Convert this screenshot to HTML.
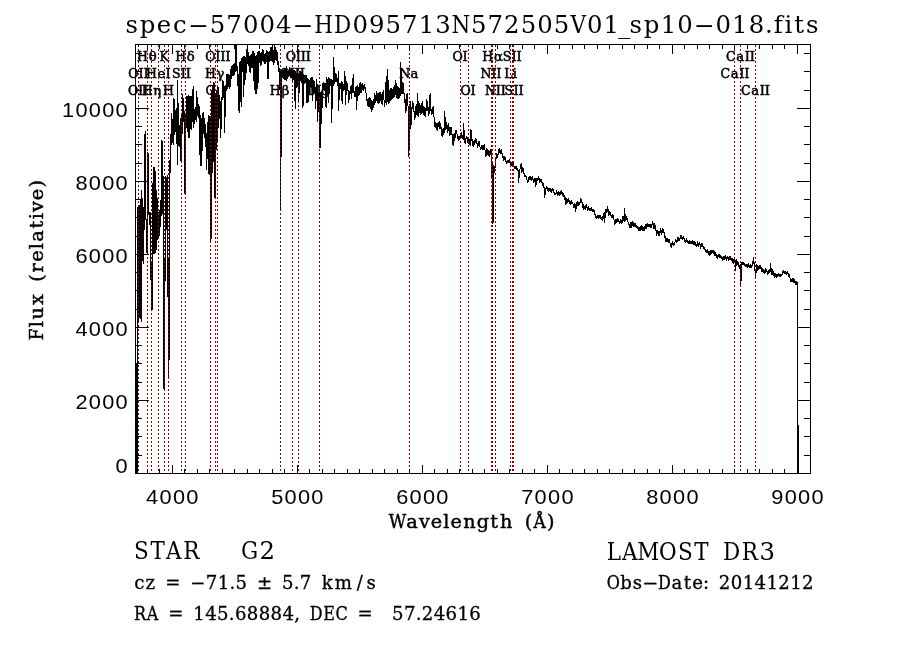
<!DOCTYPE html>
<html lang="en"><head><meta charset="utf-8"><title>spec-57004-HD095713N572505V01_sp10-018.fits</title>
<style>html,body{margin:0;padding:0;background:#fff;}svg{display:block}.t{font-family:"DejaVu Serif","Liberation Serif",serif;fill:#000}.s{font-family:"Liberation Sans","DejaVu Sans",sans-serif;fill:#000}.l{font-family:"DejaVu Serif","Liberation Serif",serif;fill:#000;stroke:#000;stroke-width:0.5px}</style></head><body>
<svg width="900" height="649" viewBox="0 0 900 649">
<rect width="900" height="649" fill="#fff"/>
<polyline points="136.5,363.0 136.5,473.0 137.5,473.0 137.5,207.0 138.5,207.0 138.5,322.0 139.5,315.0 139.5,210.0 140.5,200.0 140.5,315.0 141.5,322.0 141.5,190.0 142.5,205.0 142.5,258.0 143.5,264.0 143.5,207.0 144.5,230.0 144.5,138.0 145.5,131.0 145.5,219.0 146.5,219.0 146.5,252.0 147.5,254.0 147.5,152.0 148.5,155.0 148.5,215.0 149.5,212.0 149.5,225.0 150.5,212.0 150.5,280.0 151.5,262.0 151.5,309.0 152.5,309.0 152.5,200.0 153.5,167.0 153.5,253.0 154.5,253.0 154.5,167.0 155.5,175.0 155.5,253.0 156.5,247.0 156.5,190.0 157.5,205.0 157.5,240.0 158.5,234.0 158.5,215.0 159.5,210.0 159.5,236.0 160.5,218.0 160.5,200.0 161.5,216.0 161.5,140.0 162.5,143.0 162.5,214.0 163.5,176.0 163.5,388.0 164.5,390.0 164.5,258.0 165.5,281.0 165.5,176.0 166.5,178.0 166.5,230.0 167.5,175.0 167.5,297.0 168.5,258.0 168.5,378.5 169.5,343.0 169.5,160.0 170.5,173.0 170.5,134.0 171.5,145.0 171.5,113.0 172.5,124.6 172.5,140.5 173.5,145.3 173.5,98.0 174.5,100.0 174.5,135.0 175.5,128.2 175.5,111.0 176.5,108.4 176.5,123.1 177.5,165.0 177.5,80.0 178.5,125.2 178.5,144.9 179.5,146.3 179.5,131.9 180.5,118.3 180.5,160.0 181.5,160.0 181.5,114.1 182.5,134.2 182.5,94.0 183.5,101.0 183.5,122.1 184.5,110.8 184.5,193.0 185.5,193.0 185.5,114.6 186.5,127.7 186.5,96.0 187.5,96.0 187.5,125.0 188.5,138.0 188.5,96.0 189.5,97.0 189.5,138.0 190.5,120.0 190.5,96.0 191.5,96.0 191.5,130.3 192.5,115.0 192.5,92.0 193.5,86.0 193.5,128.0 194.5,120.1 194.5,110.4 195.5,107.0 195.5,118.9 196.5,120.7 196.5,91.0 197.5,102.8 197.5,113.7 198.5,117.8 198.5,104.3 199.5,108.3 199.5,144.2 200.5,166.0 200.5,115.0 201.5,121.0 201.5,166.0 202.5,137.4 202.5,115.2 203.5,111.6 203.5,128.7 204.5,138.2 204.5,117.7 205.5,131.0 205.5,147.4 206.5,132.7 206.5,170.0 207.5,149.3 207.5,128.1 208.5,115.5 208.5,172.0 209.5,175.0 209.5,116.1 210.5,116.1 210.5,241.0 211.5,236.0 211.5,95.0 212.5,85.0 212.5,173.3 213.5,152.0 213.5,83.0 214.5,84.0 214.5,197.0 215.5,197.0 215.5,96.0 216.5,90.0 216.5,150.0 217.5,135.0 217.5,87.0 218.5,88.0 218.5,128.0 219.5,111.2 219.5,95.4 220.5,107.0 220.5,138.0 221.5,119.9 221.5,97.6 222.5,98.8 222.5,80.6 223.5,81.4 223.5,97.9 224.5,85.7 224.5,133.2 225.5,103.0 225.5,84.7 226.5,91.3 226.5,74.9 227.5,74.4 227.5,88.6 228.5,85.5 228.5,74.4 229.5,75.2 229.5,87.9 230.5,86.3 230.5,72.3 231.5,66.4 231.5,79.3 232.5,73.2 232.5,65.8 233.5,65.0 233.5,75.8 234.5,73.9 234.5,63.2 235.5,72.2 235.5,45.0 236.5,45.0 236.5,70.7 237.5,65.8 237.5,86.2 238.5,74.2 238.5,109.0 239.5,112.6 239.5,62.7 240.5,61.7 240.5,98.0 241.5,106.6 241.5,58.7 242.5,58.0 242.5,71.6 243.5,56.5 243.5,97.4 244.5,72.5 244.5,56.7 245.5,58.3 245.5,79.5 246.5,67.0 246.5,52.9 247.5,45.0 247.5,61.9 248.5,65.9 248.5,52.3 249.5,58.9 249.5,71.4 250.5,72.2 250.5,56.7 251.5,53.7 251.5,67.3 252.5,67.4 252.5,51.2 253.5,51.4 253.5,72.6 254.5,90.0 254.5,53.4 255.5,58.8 255.5,93.4 256.5,93.0 256.5,58.2 257.5,52.1 257.5,88.7 258.5,77.9 258.5,51.2 259.5,51.7 259.5,60.5 260.5,65.5 260.5,53.1 261.5,52.8 261.5,64.8 262.5,57.8 262.5,50.0 263.5,50.3 263.5,60.2 264.5,63.5 264.5,54.8 265.5,52.8 265.5,63.7 266.5,60.0 266.5,50.0 267.5,52.1 267.5,78.6 268.5,78.0 268.5,53.1 269.5,50.9 269.5,61.4 270.5,60.1 270.5,47.5 271.5,47.3 271.5,59.2 272.5,62.4 272.5,48.9 273.5,51.7 273.5,63.8 274.5,62.1 274.5,45.0 275.5,48.2 275.5,59.4 276.5,60.6 276.5,50.0 277.5,54.0 277.5,64.8 278.5,61.3 278.5,71.7 279.5,68.1 279.5,90.0 280.5,71.5 280.5,210.0 281.5,110.0 281.5,72.2 282.5,69.6 282.5,77.9 283.5,78.3 283.5,71.6 284.5,68.2 284.5,79.6 285.5,79.3 285.5,72.2 286.5,65.8 286.5,80.6 287.5,77.6 287.5,71.9 288.5,71.3 288.5,77.3 289.5,74.6 289.5,68.2 290.5,69.7 290.5,75.3 291.5,77.6 291.5,68.3 292.5,70.3 292.5,80.6 293.5,78.6 293.5,70.7 294.5,71.0 294.5,93.6 295.5,108.5 295.5,71.4 296.5,75.5 296.5,87.4 297.5,86.6 297.5,76.6 298.5,75.5 298.5,101.8 299.5,84.5 299.5,71.8 300.5,71.6 300.5,80.1 301.5,81.7 301.5,72.5 302.5,73.9 302.5,108.0 303.5,103.1 303.5,74.8 304.5,75.6 304.5,83.0 305.5,82.1 305.5,75.0 306.5,75.0 306.5,102.7 307.5,102.0 307.5,78.9 308.5,79.7 308.5,101.6 309.5,88.3 309.5,81.7 310.5,78.5 310.5,86.1 311.5,87.2 311.5,77.5 312.5,77.5 312.5,100.7 313.5,90.2 313.5,80.2 314.5,82.8 314.5,92.6 315.5,86.7 315.5,108.5 316.5,94.7 316.5,79.4 317.5,87.7 317.5,121.5 318.5,103.0 318.5,91.6 319.5,94.3 319.5,147.0 320.5,147.0 320.5,92.8 321.5,91.8 321.5,124.0 322.5,93.4 322.5,85.0 323.5,82.0 323.5,88.4 324.5,91.0 324.5,83.3 325.5,83.1 325.5,106.8 326.5,107.0 326.5,76.9 327.5,81.2 327.5,87.8 328.5,77.1 328.5,103.1 329.5,85.5 329.5,78.3 330.5,79.5 330.5,86.1 331.5,79.5 331.5,122.7 332.5,96.1 332.5,80.5 333.5,85.7 333.5,56.7 334.5,76.2 334.5,83.5 335.5,80.1 335.5,73.2 336.5,75.8 336.5,81.7 337.5,78.4 337.5,85.8 338.5,71.5 338.5,110.7 339.5,89.0 339.5,83.6 340.5,83.1 340.5,88.6 341.5,81.5 341.5,98.3 342.5,103.8 342.5,82.0 343.5,85.9 343.5,91.4 344.5,89.2 344.5,71.4 345.5,80.9 345.5,105.2 346.5,86.0 346.5,80.9 347.5,84.7 347.5,90.9 348.5,90.8 348.5,102.7 349.5,97.2 349.5,90.7 350.5,93.5 350.5,87.5 351.5,85.2 351.5,98.9 352.5,87.4 352.5,82.3 353.5,74.1 353.5,93.1 354.5,91.0 354.5,96.5 355.5,96.1 355.5,88.0 356.5,87.0 356.5,109.5 357.5,93.0 357.5,86.0 358.5,87.7 358.5,96.2 359.5,92.9 359.5,84.8 360.5,82.2 360.5,92.5 361.5,92.7 361.5,85.5 362.5,83.3 362.5,88.6 363.5,91.3 363.5,85.2 364.5,84.4 364.5,88.3 365.5,87.4 365.5,92.4 366.5,93.7 366.5,100.7 367.5,99.8 367.5,104.4 368.5,106.4 368.5,98.5 369.5,97.8 369.5,106.0 370.5,107.8 370.5,99.5 371.5,101.3 371.5,112.2 372.5,107.4 372.5,101.8 373.5,100.0 373.5,107.5 374.5,101.7 374.5,94.4 375.5,95.9 375.5,103.2 376.5,99.4 376.5,92.4 377.5,93.9 377.5,100.5 378.5,104.4 378.5,94.3 379.5,92.6 379.5,102.6 380.5,99.9 380.5,91.9 381.5,96.3 381.5,103.0 382.5,104.0 382.5,92.5 383.5,91.1 383.5,99.7 384.5,100.5 384.5,106.7 385.5,99.0 385.5,88.3 386.5,76.3 386.5,104.7 387.5,98.5 387.5,68.9 388.5,90.2 388.5,104.4 389.5,102.1 389.5,92.7 390.5,87.9 390.5,101.3 391.5,99.2 391.5,88.2 392.5,90.8 392.5,98.4 393.5,97.9 393.5,89.9 394.5,84.6 394.5,97.4 395.5,93.2 395.5,80.3 396.5,86.5 396.5,96.1 397.5,98.9 397.5,85.8 398.5,88.9 398.5,98.1 399.5,97.2 399.5,88.2 400.5,95.6 400.5,62.2 401.5,81.8 401.5,93.6 402.5,93.0 402.5,82.3 403.5,84.4 403.5,93.1 404.5,93.1 404.5,103.3 405.5,98.8 405.5,113.3 406.5,109.4 406.5,96.1 407.5,93.0 407.5,102.5 408.5,109.0 408.5,156.7 409.5,142.8 409.5,106.6 410.5,101.3 410.5,128.9 411.5,120.5 411.5,108.0 412.5,108.5 412.5,102.2 413.5,103.7 413.5,110.2 414.5,112.6 414.5,120.0 415.5,115.5 415.5,108.1 416.5,103.8 416.5,113.9 417.5,115.9 417.5,93.3 418.5,107.8 418.5,116.6 419.5,109.4 419.5,102.9 420.5,107.8 420.5,114.8 421.5,112.9 421.5,103.8 422.5,102.3 422.5,111.7 423.5,114.8 423.5,106.4 424.5,107.5 424.5,115.1 425.5,116.1 425.5,107.7 426.5,110.8 426.5,100.0 427.5,101.5 427.5,109.8 428.5,108.2 428.5,114.6 429.5,112.8 429.5,97.8 430.5,93.3 430.5,110.4 431.5,109.5 431.5,115.1 432.5,112.9 432.5,107.3 433.5,107.0 433.5,115.0 434.5,118.9 434.5,125.5 435.5,127.6 435.5,122.0 436.5,124.7 436.5,128.1 437.5,130.9 437.5,123.9 438.5,122.9 438.5,126.3 439.5,128.1 439.5,122.2 440.5,123.3 440.5,127.9 441.5,127.2 441.5,134.5 442.5,136.6 442.5,130.3 443.5,127.9 443.5,134.8 444.5,130.7 444.5,111.1 445.5,122.2 445.5,129.2 446.5,128.6 446.5,122.2 447.5,127.2 447.5,132.9 448.5,129.4 448.5,123.3 449.5,130.2 449.5,135.7 450.5,133.5 450.5,127.6 451.5,127.7 451.5,134.1 452.5,134.7 452.5,143.3 453.5,145.6 453.5,135.2 454.5,133.7 454.5,140.7 455.5,135.9 455.5,130.5 456.5,130.6 456.5,133.5 457.5,134.3 457.5,138.5 458.5,137.0 458.5,140.7 459.5,139.6 459.5,136.5 460.5,138.5 460.5,134.0 461.5,132.0 461.5,137.6 462.5,138.7 462.5,134.9 463.5,139.7 463.5,123.3 464.5,136.4 464.5,142.2 465.5,143.2 465.5,138.8 466.5,138.7 466.5,135.6 467.5,139.1 467.5,143.0 468.5,143.1 468.5,138.8 469.5,139.8 469.5,144.4 470.5,145.3 470.5,128.9 471.5,131.9 471.5,141.3 472.5,139.4 472.5,145.2 473.5,146.6 473.5,142.1 474.5,140.6 474.5,143.7 475.5,141.9 475.5,138.9 476.5,139.7 476.5,143.0 477.5,143.4 477.5,147.6 478.5,145.0 478.5,141.3 479.5,141.1 479.5,146.2 480.5,147.5 480.5,150.2 481.5,147.9 481.5,145.5 482.5,145.1 482.5,149.2 483.5,149.5 483.5,145.3 484.5,144.9 484.5,147.8 485.5,152.6 485.5,156.1 486.5,154.6 486.5,147.9 487.5,150.0 487.5,153.9 488.5,155.3 488.5,150.4 489.5,151.7 489.5,155.5 490.5,153.7 490.5,149.3 491.5,150.0 491.5,177.8 492.5,162.1 492.5,223.3 493.5,222.7 493.5,165.4 494.5,166.6 494.5,172.8 495.5,163.9 495.5,160.5 496.5,157.5 496.5,153.4 497.5,154.5 497.5,157.9 498.5,151.9 498.5,149.1 499.5,148.5 499.5,152.3 500.5,154.3 500.5,150.1 501.5,149.5 501.5,153.1 502.5,153.9 502.5,157.0 503.5,156.3 503.5,159.8 504.5,158.8 504.5,155.7 505.5,159.2 505.5,161.8 506.5,161.3 506.5,163.3 507.5,162.4 507.5,160.4 508.5,160.6 508.5,162.6 509.5,162.3 509.5,160.2 510.5,161.9 510.5,164.3 511.5,163.2 511.5,165.6 512.5,164.2 512.5,162.2 513.5,163.8 513.5,166.3 514.5,166.5 514.5,168.5 515.5,168.3 515.5,166.3 516.5,166.7 516.5,169.3 517.5,168.6 517.5,170.6 518.5,170.2 518.5,183.3 519.5,172.0 519.5,169.6 520.5,168.5 520.5,165.9 521.5,163.3 521.5,173.3 522.5,170.6 522.5,166.7 523.5,170.0 523.5,173.0 524.5,173.6 524.5,176.6 525.5,176.9 525.5,174.9 526.5,177.6 526.5,179.6 527.5,180.7 527.5,183.3 528.5,180.7 528.5,178.0 529.5,179.0 529.5,176.8 530.5,176.7 530.5,179.3 531.5,180.3 531.5,177.7 532.5,176.9 532.5,179.6 533.5,179.7 533.5,182.2 534.5,181.6 534.5,178.5 535.5,179.0 535.5,186.7 536.5,182.9 536.5,178.5 537.5,178.1 537.5,181.1 538.5,178.4 538.5,175.6 539.5,179.8 539.5,182.3 540.5,181.9 540.5,179.4 541.5,179.8 541.5,181.9 542.5,182.9 542.5,184.9 543.5,184.0 543.5,187.7 544.5,187.3 544.5,197.8 545.5,193.0 545.5,189.0 546.5,188.9 546.5,186.9 547.5,187.7 547.5,190.0 548.5,191.0 548.5,188.5 549.5,188.3 549.5,190.3 550.5,191.2 550.5,188.9 551.5,190.0 551.5,192.0 552.5,190.6 552.5,188.6 553.5,190.6 553.5,192.7 554.5,192.1 554.5,194.1 555.5,193.3 555.5,195.3 556.5,193.2 556.5,191.0 557.5,192.4 557.5,195.0 558.5,193.9 558.5,191.9 559.5,192.2 559.5,194.9 560.5,194.1 560.5,191.2 561.5,190.8 561.5,193.2 562.5,192.3 562.5,194.8 563.5,196.4 563.5,193.2 564.5,197.8 564.5,200.4 565.5,196.6 565.5,204.4 566.5,202.7 566.5,198.7 567.5,200.5 567.5,202.5 568.5,200.5 568.5,198.5 569.5,201.0 569.5,203.0 570.5,204.0 570.5,201.4 571.5,201.0 571.5,203.0 572.5,203.8 572.5,201.8 573.5,205.8 573.5,207.8 574.5,207.8 574.5,204.0 575.5,204.4 575.5,212.2 576.5,205.5 576.5,202.2 577.5,201.7 577.5,205.7 578.5,205.1 578.5,202.6 579.5,202.9 579.5,205.2 580.5,201.7 580.5,197.9 581.5,200.2 581.5,202.8 582.5,202.4 582.5,206.9 583.5,208.7 583.5,204.4 584.5,206.8 584.5,208.8 585.5,209.2 585.5,205.6 586.5,205.0 586.5,207.3 587.5,208.1 587.5,210.7 588.5,209.7 588.5,206.8 589.5,208.6 589.5,210.6 590.5,210.4 590.5,208.4 591.5,208.0 591.5,210.3 592.5,209.7 592.5,211.7 593.5,210.9 593.5,208.9 594.5,211.9 594.5,214.8 595.5,214.6 595.5,217.3 596.5,216.3 596.5,218.7 597.5,217.5 597.5,215.5 598.5,215.4 598.5,218.2 599.5,217.9 599.5,215.5 600.5,216.0 600.5,218.3 601.5,217.4 601.5,219.6 602.5,220.2 602.5,216.7 603.5,218.4 603.5,213.8 604.5,212.8 604.5,223.3 605.5,213.5 605.5,210.0 606.5,209.5 606.5,212.3 607.5,211.6 607.5,205.6 608.5,211.6 608.5,215.0 609.5,214.7 609.5,211.5 610.5,212.5 610.5,215.7 611.5,215.4 611.5,217.8 612.5,217.3 612.5,214.6 613.5,215.6 613.5,218.0 614.5,221.4 614.5,224.4 615.5,222.7 615.5,219.6 616.5,219.4 616.5,222.3 617.5,221.6 617.5,218.5 618.5,219.4 618.5,221.4 619.5,222.0 619.5,224.2 620.5,222.3 620.5,219.9 621.5,220.2 621.5,224.2 622.5,221.0 622.5,216.8 623.5,216.6 623.5,219.8 624.5,222.2 624.5,207.8 625.5,219.0 625.5,221.1 626.5,219.2 626.5,217.2 627.5,218.9 627.5,221.8 628.5,222.3 628.5,224.3 629.5,224.3 629.5,227.4 630.5,227.0 630.5,222.3 631.5,223.1 631.5,226.9 632.5,225.1 632.5,221.1 633.5,223.7 633.5,226.8 634.5,226.0 634.5,223.6 635.5,224.0 635.5,226.5 636.5,227.3 636.5,225.3 637.5,226.2 637.5,228.2 638.5,227.8 638.5,230.1 639.5,230.7 639.5,227.4 640.5,226.3 640.5,230.0 641.5,228.8 641.5,225.1 642.5,227.8 642.5,230.6 643.5,230.3 643.5,227.3 644.5,226.6 644.5,229.8 645.5,228.3 645.5,224.5 646.5,224.4 646.5,227.9 647.5,226.5 647.5,223.6 648.5,224.6 648.5,226.9 649.5,226.6 649.5,224.3 650.5,224.4 650.5,227.1 651.5,227.2 651.5,225.1 652.5,224.1 652.5,221.1 653.5,225.8 653.5,228.5 654.5,228.5 654.5,224.4 655.5,226.2 655.5,229.7 656.5,231.4 656.5,235.6 657.5,233.2 657.5,230.4 658.5,231.3 658.5,235.4 659.5,235.3 659.5,231.6 660.5,232.5 660.5,228.8 661.5,230.6 661.5,233.9 662.5,232.5 662.5,228.6 663.5,230.0 663.5,232.6 664.5,232.8 664.5,237.4 665.5,236.8 665.5,241.1 666.5,241.1 666.5,238.5 667.5,238.8 667.5,241.6 668.5,242.0 668.5,239.3 669.5,240.1 669.5,242.1 670.5,243.3 670.5,246.1 671.5,246.9 671.5,243.9 672.5,244.4 672.5,242.3 673.5,243.9 673.5,246.1 674.5,244.2 674.5,242.2 675.5,241.6 675.5,239.6 676.5,240.5 676.5,243.2 677.5,240.0 677.5,238.0 678.5,237.4 678.5,240.4 679.5,240.9 679.5,238.6 680.5,237.9 680.5,235.6 681.5,235.9 681.5,238.4 682.5,237.4 682.5,239.6 683.5,238.4 683.5,236.4 684.5,239.6 684.5,241.6 685.5,240.7 685.5,242.7 686.5,241.4 686.5,239.1 687.5,240.3 687.5,242.3 688.5,243.1 688.5,241.1 689.5,240.5 689.5,242.8 690.5,241.7 690.5,244.0 691.5,243.9 691.5,241.6 692.5,241.0 692.5,243.0 693.5,242.1 693.5,244.3 694.5,244.1 694.5,241.9 695.5,243.2 695.5,245.2 696.5,244.3 696.5,246.7 697.5,244.3 697.5,242.3 698.5,243.8 698.5,245.9 699.5,244.6 699.5,242.0 700.5,246.4 700.5,248.9 701.5,245.7 701.5,243.3 702.5,243.9 702.5,246.0 703.5,246.5 703.5,248.5 704.5,247.3 704.5,249.8 705.5,249.4 705.5,251.6 706.5,252.4 706.5,250.4 707.5,251.7 707.5,248.9 708.5,252.7 708.5,254.7 709.5,255.0 709.5,252.3 710.5,253.8 710.5,250.4 711.5,250.3 711.5,253.0 712.5,252.7 712.5,250.5 713.5,250.5 713.5,253.3 714.5,252.0 714.5,254.9 715.5,255.8 715.5,252.5 716.5,255.8 716.5,257.8 717.5,258.1 717.5,255.2 718.5,254.6 718.5,256.6 719.5,257.1 719.5,254.6 720.5,255.1 720.5,257.1 721.5,258.0 721.5,256.0 722.5,258.0 722.5,260.0 723.5,259.0 723.5,257.0 724.5,256.9 724.5,259.1 725.5,258.1 725.5,256.1 726.5,257.5 726.5,260.0 727.5,258.3 727.5,255.8 728.5,257.8 728.5,260.7 729.5,258.7 729.5,256.3 730.5,257.0 730.5,259.7 731.5,260.7 731.5,258.6 732.5,259.0 732.5,261.6 733.5,263.2 733.5,259.3 734.5,258.7 734.5,261.4 735.5,260.9 735.5,271.1 736.5,261.2 736.5,259.1 737.5,262.1 737.5,264.4 738.5,262.6 738.5,266.6 739.5,265.9 739.5,268.9 740.5,263.8 740.5,286.2 741.5,275.9 741.5,262.6 742.5,262.8 742.5,264.8 743.5,264.7 743.5,262.7 744.5,263.1 744.5,265.2 745.5,264.7 745.5,266.7 746.5,266.6 746.5,264.6 747.5,265.0 747.5,267.1 748.5,266.1 748.5,263.9 749.5,265.6 749.5,267.6 750.5,266.9 750.5,264.5 751.5,265.8 751.5,267.8 752.5,263.7 752.5,261.1 753.5,264.3 753.5,257.3 754.5,266.7 754.5,271.1 755.5,269.1 755.5,278.9 756.5,267.6 756.5,264.5 757.5,265.6 757.5,270.5 758.5,268.4 758.5,266.3 759.5,265.7 759.5,268.5 760.5,268.2 760.5,265.3 761.5,268.6 761.5,271.0 762.5,271.0 762.5,269.0 763.5,269.8 763.5,271.8 764.5,270.7 764.5,273.1 765.5,271.7 765.5,268.7 766.5,269.8 766.5,271.8 767.5,271.8 767.5,274.4 768.5,273.9 768.5,270.8 769.5,272.1 769.5,268.8 770.5,271.8 770.5,263.3 771.5,272.1 771.5,274.3 772.5,274.6 772.5,269.2 773.5,272.2 773.5,275.7 774.5,276.9 774.5,273.6 775.5,273.9 775.5,275.9 776.5,277.0 776.5,274.8 777.5,274.6 777.5,276.6 778.5,275.7 778.5,273.7 779.5,274.3 779.5,276.5 780.5,276.6 780.5,274.6 781.5,274.3 781.5,276.3 782.5,273.1 782.5,271.1 783.5,270.7 783.5,272.7 784.5,273.7 784.5,271.7 785.5,271.6 785.5,273.9 786.5,274.2 786.5,272.2 787.5,271.6 787.5,273.6 788.5,274.0 788.5,276.0 789.5,275.1 789.5,277.1 790.5,279.0 790.5,281.6 791.5,281.7 791.5,279.7 792.5,278.5 792.5,281.0 793.5,281.9 793.5,278.7 794.5,280.1 794.5,282.3 795.5,282.0 795.5,284.0 796.5,284.4 796.5,282.0 797.5,283.0 797.5,473.0 798.5,473.0 798.5,425.0" fill="none" stroke="#000" stroke-width="1" stroke-linejoin="miter" shape-rendering="crispEdges"/>
<g stroke="#900000" stroke-width="1" stroke-dasharray="2 2" shape-rendering="crispEdges">
<line x1="138.5" y1="45" x2="138.5" y2="473"/>
<line x1="147.5" y1="45" x2="147.5" y2="473"/>
<line x1="151.5" y1="45" x2="151.5" y2="473"/>
<line x1="158.5" y1="45" x2="158.5" y2="473"/>
<line x1="164.5" y1="45" x2="164.5" y2="473"/>
<line x1="168.5" y1="45" x2="168.5" y2="473"/>
<line x1="181.5" y1="45" x2="181.5" y2="473"/>
<line x1="185.5" y1="45" x2="185.5" y2="473"/>
<line x1="210.5" y1="45" x2="210.5" y2="473"/>
<line x1="215.5" y1="45" x2="215.5" y2="473"/>
<line x1="217.5" y1="45" x2="217.5" y2="473"/>
<line x1="280.5" y1="45" x2="280.5" y2="473"/>
<line x1="292.5" y1="45" x2="292.5" y2="473"/>
<line x1="298.5" y1="45" x2="298.5" y2="473"/>
<line x1="319.5" y1="45" x2="319.5" y2="473"/>
<line x1="409.5" y1="45" x2="409.5" y2="473"/>
<line x1="460.5" y1="45" x2="460.5" y2="473"/>
<line x1="468.5" y1="45" x2="468.5" y2="473"/>
<line x1="491.5" y1="45" x2="491.5" y2="473"/>
<line x1="492.5" y1="45" x2="492.5" y2="473"/>
<line x1="495.5" y1="45" x2="495.5" y2="473"/>
<line x1="510.5" y1="45" x2="510.5" y2="473"/>
<line x1="512.5" y1="45" x2="512.5" y2="473"/>
<line x1="513.5" y1="45" x2="513.5" y2="473"/>
<line x1="734.5" y1="45" x2="734.5" y2="473"/>
<line x1="740.5" y1="45" x2="740.5" y2="473"/>
<line x1="755.5" y1="45" x2="755.5" y2="473"/>
</g>
<text class="l" text-anchor="middle" font-size="13.2" x="140.14" y="0" transform="translate(0 95.3) scale(0.95 1)" >O</text><text class="l" text-anchor="middle" font-size="13.2" x="140.67 145.70" y="0" transform="translate(0 95.3) scale(1.0 1)" >II</text>
<text class="l" text-anchor="middle" font-size="13.2" x="140.51" y="0" transform="translate(0 78.4) scale(0.95 1)" >O</text><text class="l" text-anchor="middle" font-size="13.2" x="141.02 146.05" y="0" transform="translate(0 78.4) scale(1.0 1)" >II</text>
<text class="l" text-anchor="middle" font-size="13.2" x="149.84" y="0" transform="translate(0 61.3) scale(0.95 1)" >H</text><text class="l" text-anchor="middle" font-size="13.2" x="152.63" y="0" transform="translate(0 61.3) scale(1.0 1)" >θ</text>
<text class="l" text-anchor="middle" font-size="13.2" x="155.01" y="0" transform="translate(0 95.3) scale(0.95 1)" >H</text><text class="l" text-anchor="middle" font-size="13.2" x="157.32" y="0" transform="translate(0 95.3) scale(1.0 1)" >η</text>
<text class="l" text-anchor="middle" font-size="13.2" x="159.52" y="0" transform="translate(0 78.4) scale(0.95 1)" >H</text><text class="l" text-anchor="middle" font-size="13.2" x="161.37 168.23" y="0" transform="translate(0 78.4) scale(1.0 1)" >eI</text>
<text class="l" text-anchor="middle" font-size="13.2" x="172.76" y="0" transform="translate(0 61.3) scale(0.95 1)" >K</text>
<text class="l" text-anchor="middle" font-size="13.2" x="177.35" y="0" transform="translate(0 95.3) scale(0.95 1)" >H</text>
<text class="l" text-anchor="middle" font-size="13.2" x="185.57" y="0" transform="translate(0 78.4) scale(0.95 1)" >S</text><text class="l" text-anchor="middle" font-size="13.2" x="183.38 188.40" y="0" transform="translate(0 78.4) scale(1.0 1)" >II</text>
<text class="l" text-anchor="middle" font-size="13.2" x="190.32" y="0" transform="translate(0 61.3) scale(0.95 1)" >H</text><text class="l" text-anchor="middle" font-size="13.2" x="190.63" y="0" transform="translate(0 61.3) scale(1.0 1)" >δ</text>
<text class="l" text-anchor="middle" font-size="13.2" x="221.57" y="0" transform="translate(0 95.3) scale(0.95 1)" >G</text>
<text class="l" text-anchor="middle" font-size="13.2" x="221.51" y="0" transform="translate(0 78.4) scale(0.95 1)" >H</text><text class="l" text-anchor="middle" font-size="13.2" x="220.48" y="0" transform="translate(0 78.4) scale(1.0 1)" >γ</text>
<text class="l" text-anchor="middle" font-size="13.2" x="221.37" y="0" transform="translate(0 61.3) scale(0.95 1)" >O</text><text class="l" text-anchor="middle" font-size="13.2" x="217.85 222.87 227.90" y="0" transform="translate(0 61.3) scale(1.0 1)" >III</text>
<text class="l" text-anchor="middle" font-size="13.2" x="289.83" y="0" transform="translate(0 95.3) scale(0.95 1)" >H</text><text class="l" text-anchor="middle" font-size="13.2" x="285.62" y="0" transform="translate(0 95.3) scale(1.0 1)" >β</text>
<text class="l" text-anchor="middle" font-size="13.2" x="299.80" y="0" transform="translate(0 78.4) scale(0.95 1)" >O</text><text class="l" text-anchor="middle" font-size="13.2" x="292.35 297.37 302.40" y="0" transform="translate(0 78.4) scale(1.0 1)" >III</text>
<text class="l" text-anchor="middle" font-size="13.2" x="306.10" y="0" transform="translate(0 61.3) scale(0.95 1)" >O</text><text class="l" text-anchor="middle" font-size="13.2" x="298.34 303.37 308.39" y="0" transform="translate(0 61.3) scale(1.0 1)" >III</text>
<text class="l" text-anchor="middle" font-size="13.2" x="331.64" y="0" transform="translate(0 95.3) scale(0.95 1)" >M</text><text class="l" text-anchor="middle" font-size="13.2" x="325.12" y="0" transform="translate(0 95.3) scale(1.0 1)" >g</text>
<text class="l" text-anchor="middle" font-size="13.2" x="426.02" y="0" transform="translate(0 78.4) scale(0.95 1)" >N</text><text class="l" text-anchor="middle" font-size="13.2" x="414.54" y="0" transform="translate(0 78.4) scale(1.0 1)" >a</text>
<text class="l" text-anchor="middle" font-size="13.2" x="481.68" y="0" transform="translate(0 61.3) scale(0.95 1)" >O</text><text class="l" text-anchor="middle" font-size="13.2" x="465.13" y="0" transform="translate(0 61.3) scale(1.0 1)" >I</text>
<text class="l" text-anchor="middle" font-size="13.2" x="490.03" y="0" transform="translate(0 95.3) scale(0.95 1)" >O</text><text class="l" text-anchor="middle" font-size="13.2" x="473.07" y="0" transform="translate(0 95.3) scale(1.0 1)" >I</text>
<text class="l" text-anchor="middle" font-size="13.2" x="511.64" y="0" transform="translate(0 78.4) scale(0.95 1)" >N</text><text class="l" text-anchor="middle" font-size="13.2" x="493.83 498.86" y="0" transform="translate(0 78.4) scale(1.0 1)" >II</text>
<text class="l" text-anchor="middle" font-size="13.2" x="513.34" y="0" transform="translate(0 61.3) scale(0.95 1)" >H</text><text class="l" text-anchor="middle" font-size="13.2" x="498.42" y="0" transform="translate(0 61.3) scale(1.0 1)" >α</text>
<text class="l" text-anchor="middle" font-size="13.2" x="516.30" y="0" transform="translate(0 95.3) scale(0.95 1)" >N</text><text class="l" text-anchor="middle" font-size="13.2" x="498.26 503.29" y="0" transform="translate(0 95.3) scale(1.0 1)" >II</text>
<text class="l" text-anchor="middle" font-size="13.2" x="535.09" y="0" transform="translate(0 78.4) scale(0.95 1)" >L</text><text class="l" text-anchor="middle" font-size="13.2" x="514.96" y="0" transform="translate(0 78.4) scale(1.0 1)" >i</text>
<text class="l" text-anchor="middle" font-size="13.2" x="533.81" y="0" transform="translate(0 61.3) scale(0.95 1)" >S</text><text class="l" text-anchor="middle" font-size="13.2" x="514.20 519.23" y="0" transform="translate(0 61.3) scale(1.0 1)" >II</text>
<text class="l" text-anchor="middle" font-size="13.2" x="535.70" y="0" transform="translate(0 95.3) scale(0.95 1)" >S</text><text class="l" text-anchor="middle" font-size="13.2" x="516.00 521.03" y="0" transform="translate(0 95.3) scale(1.0 1)" >II</text>
<text class="l" text-anchor="middle" font-size="13.2" x="763.54" y="0" transform="translate(0 78.4) scale(0.95 1)" >C</text><text class="l" text-anchor="middle" font-size="13.2" x="734.73 741.82 746.84" y="0" transform="translate(0 78.4) scale(1.0 1)" >aII</text>
<text class="l" text-anchor="middle" font-size="13.2" x="769.34" y="0" transform="translate(0 61.3) scale(0.95 1)" >C</text><text class="l" text-anchor="middle" font-size="13.2" x="740.24 747.33 752.35" y="0" transform="translate(0 61.3) scale(1.0 1)" >aII</text>
<text class="l" text-anchor="middle" font-size="13.2" x="785.15" y="0" transform="translate(0 95.3) scale(0.95 1)" >C</text><text class="l" text-anchor="middle" font-size="13.2" x="755.26 762.34 767.37" y="0" transform="translate(0 95.3) scale(1.0 1)" >aII</text>
<g stroke="#000" stroke-width="1" fill="none" shape-rendering="crispEdges">
<rect x="135.5" y="44.5" width="675.0" height="429.0"/>
<path d="M147.5 473.5v-4.5M147.5 44.5v4.5M159.5 473.5v-4.5M159.5 44.5v4.5M172.5 473.5v-9M172.5 44.5v9M184.5 473.5v-4.5M184.5 44.5v4.5M197.5 473.5v-4.5M197.5 44.5v4.5M209.5 473.5v-4.5M209.5 44.5v4.5M222.5 473.5v-4.5M222.5 44.5v4.5M234.5 473.5v-4.5M234.5 44.5v4.5M247.5 473.5v-4.5M247.5 44.5v4.5M259.5 473.5v-4.5M259.5 44.5v4.5M272.5 473.5v-4.5M272.5 44.5v4.5M284.5 473.5v-4.5M284.5 44.5v4.5M297.5 473.5v-9M297.5 44.5v9M309.5 473.5v-4.5M309.5 44.5v4.5M322.5 473.5v-4.5M322.5 44.5v4.5M334.5 473.5v-4.5M334.5 44.5v4.5M347.5 473.5v-4.5M347.5 44.5v4.5M359.5 473.5v-4.5M359.5 44.5v4.5M372.5 473.5v-4.5M372.5 44.5v4.5M384.5 473.5v-4.5M384.5 44.5v4.5M397.5 473.5v-4.5M397.5 44.5v4.5M409.5 473.5v-4.5M409.5 44.5v4.5M422.5 473.5v-9M422.5 44.5v9M434.5 473.5v-4.5M434.5 44.5v4.5M447.5 473.5v-4.5M447.5 44.5v4.5M459.5 473.5v-4.5M459.5 44.5v4.5M472.5 473.5v-4.5M472.5 44.5v4.5M484.5 473.5v-4.5M484.5 44.5v4.5M497.5 473.5v-4.5M497.5 44.5v4.5M509.5 473.5v-4.5M509.5 44.5v4.5M522.5 473.5v-4.5M522.5 44.5v4.5M534.5 473.5v-4.5M534.5 44.5v4.5M547.5 473.5v-9M547.5 44.5v9M559.5 473.5v-4.5M559.5 44.5v4.5M572.5 473.5v-4.5M572.5 44.5v4.5M584.5 473.5v-4.5M584.5 44.5v4.5M597.5 473.5v-4.5M597.5 44.5v4.5M609.5 473.5v-4.5M609.5 44.5v4.5M622.5 473.5v-4.5M622.5 44.5v4.5M634.5 473.5v-4.5M634.5 44.5v4.5M647.5 473.5v-4.5M647.5 44.5v4.5M659.5 473.5v-4.5M659.5 44.5v4.5M672.5 473.5v-9M672.5 44.5v9M684.5 473.5v-4.5M684.5 44.5v4.5M697.5 473.5v-4.5M697.5 44.5v4.5M709.5 473.5v-4.5M709.5 44.5v4.5M722.5 473.5v-4.5M722.5 44.5v4.5M734.5 473.5v-4.5M734.5 44.5v4.5M747.5 473.5v-4.5M747.5 44.5v4.5M759.5 473.5v-4.5M759.5 44.5v4.5M772.5 473.5v-4.5M772.5 44.5v4.5M784.5 473.5v-4.5M784.5 44.5v4.5M797.5 473.5v-9M797.5 44.5v9M135.5 455.5h6.5M810.5 455.5h-6.5M135.5 436.5h6.5M810.5 436.5h-6.5M135.5 418.5h6.5M810.5 418.5h-6.5M135.5 400.5h13.5M810.5 400.5h-13.5M135.5 382.5h6.5M810.5 382.5h-6.5M135.5 363.5h6.5M810.5 363.5h-6.5M135.5 345.5h6.5M810.5 345.5h-6.5M135.5 327.5h13.5M810.5 327.5h-13.5M135.5 309.5h6.5M810.5 309.5h-6.5M135.5 290.5h6.5M810.5 290.5h-6.5M135.5 272.5h6.5M810.5 272.5h-6.5M135.5 254.5h13.5M810.5 254.5h-13.5M135.5 236.5h6.5M810.5 236.5h-6.5M135.5 217.5h6.5M810.5 217.5h-6.5M135.5 199.5h6.5M810.5 199.5h-6.5M135.5 181.5h13.5M810.5 181.5h-13.5M135.5 163.5h6.5M810.5 163.5h-6.5M135.5 144.5h6.5M810.5 144.5h-6.5M135.5 126.5h6.5M810.5 126.5h-6.5M135.5 108.5h13.5M810.5 108.5h-13.5M135.5 90.5h6.5M810.5 90.5h-6.5M135.5 71.5h6.5M810.5 71.5h-6.5M135.5 53.5h6.5M810.5 53.5h-6.5"/>
</g>
<text class="s" text-anchor="middle" font-size="20" x="139.61 151.91 164.20 176.50" y="0" transform="translate(0 504.0) scale(1.09 1)">4000</text>
<text class="s" text-anchor="middle" font-size="20" x="254.32 266.61 278.91 291.20" y="0" transform="translate(0 504.0) scale(1.09 1)">5000</text>
<text class="s" text-anchor="middle" font-size="20" x="369.03 381.32 393.61 405.91" y="0" transform="translate(0 504.0) scale(1.09 1)">6000</text>
<text class="s" text-anchor="middle" font-size="20" x="483.73 496.03 508.32 520.61" y="0" transform="translate(0 504.0) scale(1.09 1)">7000</text>
<text class="s" text-anchor="middle" font-size="20" x="598.44 610.73 623.03 635.32" y="0" transform="translate(0 504.0) scale(1.09 1)">8000</text>
<text class="s" text-anchor="middle" font-size="20" x="713.15 725.44 737.73 750.03" y="0" transform="translate(0 504.0) scale(1.09 1)">9000</text>
<text class="s" text-anchor="middle" font-size="20" x="111.65" y="0" transform="translate(0 473.2) scale(1.09 1)">0</text>
<text class="s" text-anchor="middle" font-size="20" x="74.77 87.06 99.36 111.65" y="0" transform="translate(0 408.9) scale(1.09 1)">2000</text>
<text class="s" text-anchor="middle" font-size="20" x="74.77 87.06 99.36 111.65" y="0" transform="translate(0 335.9) scale(1.09 1)">4000</text>
<text class="s" text-anchor="middle" font-size="20" x="74.77 87.06 99.36 111.65" y="0" transform="translate(0 262.8) scale(1.09 1)">6000</text>
<text class="s" text-anchor="middle" font-size="20" x="74.77 87.06 99.36 111.65" y="0" transform="translate(0 189.8) scale(1.09 1)">8000</text>
<text class="s" text-anchor="middle" font-size="20" x="62.48 74.77 87.06 99.36 111.65" y="0" transform="translate(0 116.8) scale(1.09 1)">10000</text>
<text class="t" text-anchor="middle" font-size="23.9" x="129.16 144.61 160.86 176.30" y="0" transform="translate(0 32.5) scale(1.02 1)" >spec</text><text class="t" text-anchor="middle" font-size="23.9" x="76.34" y="0" transform="translate(0 32.5) scale(2.6 1)" >-</text><text class="t" text-anchor="middle" font-size="23.9" x="213.28 229.54 245.79 262.05 278.30" y="0" transform="translate(0 32.5) scale(1.02 1)" >57004</text><text class="t" text-anchor="middle" font-size="23.9" x="116.51" y="0" transform="translate(0 32.5) scale(2.6 1)" >-</text><text class="t" text-anchor="middle" font-size="23.9" x="359.62 380.81" y="0" transform="translate(0 32.5) scale(0.9 1)" >HD</text><text class="t" text-anchor="middle" font-size="23.9" x="353.07 369.33 385.58 401.84 418.09 434.35" y="0" transform="translate(0 32.5) scale(1.02 1)" >095713</text><text class="t" text-anchor="middle" font-size="23.9" x="512.07" y="0" transform="translate(0 32.5) scale(0.9 1)" >N</text><text class="t" text-anchor="middle" font-size="23.9" x="469.30 485.55 501.81 518.06 534.32 550.57" y="0" transform="translate(0 32.5) scale(1.02 1)" >572505</text><text class="t" text-anchor="middle" font-size="23.9" x="642.40" y="0" transform="translate(0 32.5) scale(0.9 1)" >V</text><text class="t" text-anchor="middle" font-size="23.9" x="583.08 599.34 611.93 623.31 638.75 655.42 671.67" y="0" transform="translate(0 32.5) scale(1.02 1)" >01_sp10</text><text class="t" text-anchor="middle" font-size="23.9" x="270.84" y="0" transform="translate(0 32.5) scale(2.6 1)" >-</text><text class="t" text-anchor="middle" font-size="23.9" x="709.06 725.31 741.57 753.76 763.10 772.86 783.42 796.43" y="0" transform="translate(0 32.5) scale(1.02 1)" >018.fits</text>
<text class="t" text-anchor="middle" font-size="18.9" x="441.67" y="0" transform="translate(0 528) scale(0.9 1)" stroke="#000" stroke-width="0.45">W</text><text class="t" text-anchor="middle" font-size="18.9" x="403.84 416.04 427.92 437.55 447.18 460.35 473.51 484.43 496.31 508.51 518.14" y="0" transform="translate(0 528) scale(1.02 1)" stroke="#000" stroke-width="0.45">avelength (</text><text class="t" text-anchor="middle" font-size="18.9" x="599.60" y="0" transform="translate(0 528) scale(0.9 1)" stroke="#000" stroke-width="0.45">Å</text><text class="t" text-anchor="middle" font-size="18.9" x="539.97" y="0" transform="translate(0 528) scale(1.02 1)" stroke="#000" stroke-width="0.45">)</text>
<text class="t" text-anchor="middle" font-size="18.9" x="-82.60" y="0" transform="translate(43.3 260) rotate(-90) translate(0 0) scale(0.9 1)" stroke="#000" stroke-width="0.45">F</text><text class="t" text-anchor="middle" font-size="18.9" x="-62.93 -52.34 -38.85 -27.29 -17.66 -7.71 3.85 13.49 23.44 34.68 43.02 52.34 64.22 74.81" y="0" transform="translate(43.3 260) rotate(-90) translate(0 0) scale(1.02 1)" stroke="#000" stroke-width="0.45">lux (relative)</text>
<text class="t" text-anchor="middle" font-size="23.9" x="157.21 175.17 193.13 212.48" y="0" transform="translate(0 558.8) scale(0.9 1)" >STAR</text>
<text class="t" text-anchor="middle" font-size="23.9" x="277.26" y="0" transform="translate(0 558.8) scale(0.9 1)" >G</text><text class="t" text-anchor="middle" font-size="23.9" x="262.11" y="0" transform="translate(0 558.8) scale(1.02 1)" >2</text>
<text class="t" text-anchor="middle" font-size="23.9" x="682.18 699.68 720.40 742.05 761.39 779.36 795.48 812.98 833.24" y="0" transform="translate(0 560) scale(0.9 1)" >LAMOST DR</text><text class="t" text-anchor="middle" font-size="23.9" x="752.28" y="0" transform="translate(0 560) scale(1.02 1)" >3</text>
<text class="t" text-anchor="middle" font-size="17.8" x="136.52 147.31 157.23 169.48 181.73 193.98 207.40 219.06 227.81 236.56 247.06 259.31 271.56 282.06 290.81 299.56 310.06 320.86 336.61 352.65 364.02" y="0" transform="translate(0 589.2) scale(1.02 1)" stroke="#000" stroke-width="0.3">cz = −71.5 ± 5.7 km/s</text>
<text class="t" text-anchor="middle" font-size="17.8" x="681.49" y="0" transform="translate(0 589.2) scale(0.9 1)" stroke="#000" stroke-width="0.3">O</text><text class="t" text-anchor="middle" font-size="17.8" x="613.86 624.94" y="0" transform="translate(0 589.2) scale(1.02 1)" stroke="#000" stroke-width="0.3">bs</text><text class="t" text-anchor="middle" font-size="17.8" x="250.09" y="0" transform="translate(0 589.2) scale(2.6 1)" stroke="#000" stroke-width="0.3">-</text><text class="t" text-anchor="middle" font-size="17.8" x="738.35" y="0" transform="translate(0 589.2) scale(0.9 1)" stroke="#000" stroke-width="0.3">D</text><text class="t" text-anchor="middle" font-size="17.8" x="663.74 673.94 683.86 692.32 699.90 710.40 722.07 733.74 745.40 757.07 768.74 780.40 792.07" y="0" transform="translate(0 589.2) scale(1.02 1)" stroke="#000" stroke-width="0.3">ate: 20141212</text>
<text class="t" text-anchor="middle" font-size="17.8" x="155.72 169.60 181.50" y="0" transform="translate(0 620) scale(0.9 1)" stroke="#000" stroke-width="0.3">RA </text><text class="t" text-anchor="middle" font-size="17.8" x="172.40 184.65 195.15 206.81 218.48 227.23 235.98 247.65 259.31 270.98 282.65 291.40 298.98" y="0" transform="translate(0 620) scale(1.02 1)" stroke="#000" stroke-width="0.3">= 145.68884, </text><text class="t" text-anchor="middle" font-size="17.8" x="351.41 365.62 379.50 391.73" y="0" transform="translate(0 620) scale(0.9 1)" stroke="#000" stroke-width="0.3">DEC </text><text class="t" text-anchor="middle" font-size="17.8" x="357.90 370.15 389.98 401.65 410.40 419.15 430.81 442.48 454.15 465.81" y="0" transform="translate(0 620) scale(1.02 1)" stroke="#000" stroke-width="0.3">= 57.24616</text>
</svg></body></html>
